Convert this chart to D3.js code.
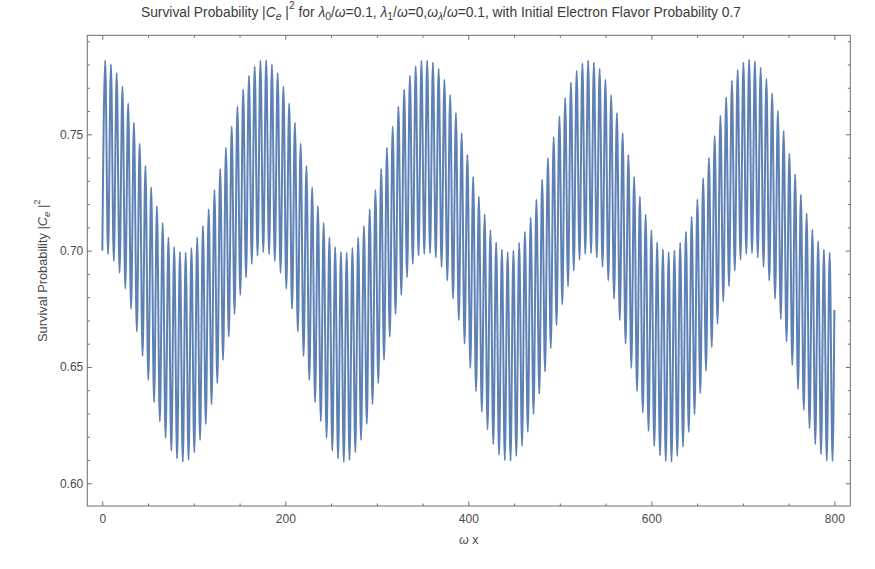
<!DOCTYPE html>
<html>
<head>
<meta charset="utf-8">
<script src="https://cdn.jsdelivr.net/npm/d3@7"></script>
<style>
  body { margin: 0; background: #fff; }
  svg { display: block; }
  text { font-family: "Liberation Sans", Arial, sans-serif; }
</style>
</head>
<body>
<svg id="chart" width="875" height="569"></svg>
<script>
// successive extrema of the curve (min, max, min, ...), spaced by pi in omega x,
// one array per slow envelope cycle
const HALF_CYCLE = Math.PI;
const cycle1 = [
  0.7000, 0.7818, 0.6984, 0.7800, 0.6955, 0.7764, 0.6905, 0.7705, 0.6836, 0.7633,
  0.6750, 0.7550, 0.6652, 0.7460, 0.6547, 0.7364, 0.6444, 0.7272, 0.6348, 0.7191,
  0.6266, 0.7119, 0.6196, 0.7056, 0.6140, 0.7016, 0.6106, 0.6994, 0.6092, 0.6991,
  0.6100, 0.7011, 0.6133, 0.7056, 0.6186, 0.7106, 0.6255, 0.7178, 0.6340, 0.7261,
  0.6430, 0.7351, 0.6530, 0.7442, 0.6630, 0.7533, 0.6727, 0.7619, 0.6809, 0.7693,
  0.6885, 0.7752, 0.6943, 0.7793, 0.6978, 0.7816
];
const cycle2 = [
  0.6993, 0.7818, 0.6984, 0.7800, 0.6955, 0.7764, 0.6905, 0.7705, 0.6836, 0.7633,
  0.6750, 0.7550, 0.6652, 0.7460, 0.6547, 0.7364, 0.6444, 0.7272, 0.6348, 0.7191,
  0.6266, 0.7119, 0.6196, 0.7056, 0.6140, 0.7016, 0.6106, 0.6994, 0.6092, 0.6991,
  0.6100, 0.7011, 0.6133, 0.7056, 0.6186, 0.7106, 0.6255, 0.7178, 0.6340, 0.7261,
  0.6430, 0.7351, 0.6530, 0.7442, 0.6630, 0.7533, 0.6727, 0.7619, 0.6809, 0.7693,
  0.6885, 0.7752, 0.6943, 0.7793, 0.6978, 0.7816
];
const cycle3 = [
  0.6986, 0.7817, 0.6989, 0.7809, 0.6970, 0.7782, 0.6930, 0.7735, 0.6871, 0.7669,
  0.6793, 0.7592, 0.6701, 0.7505, 0.6600, 0.7412, 0.6496, 0.7318, 0.6396, 0.7232,
  0.6307, 0.7155, 0.6231, 0.7088, 0.6168, 0.7036, 0.6123, 0.7005, 0.6099, 0.6993,
  0.6096, 0.7001, 0.6117, 0.7034, 0.6160, 0.7081, 0.6221, 0.7142, 0.6298, 0.7220,
  0.6385, 0.7306, 0.6480, 0.7397, 0.6580, 0.7488, 0.6679, 0.7576, 0.6768, 0.7656,
  0.6847, 0.7723, 0.6914, 0.7773, 0.6961, 0.7805
];
const cycle4 = [
  0.6986, 0.7817, 0.6989, 0.7809, 0.6970, 0.7782, 0.6930, 0.7735, 0.6871, 0.7669,
  0.6793, 0.7592, 0.6701, 0.7505, 0.6600, 0.7412, 0.6496, 0.7318, 0.6396, 0.7232,
  0.6303, 0.7155, 0.6225, 0.7088, 0.6160, 0.7036, 0.6119, 0.7005, 0.6095, 0.6993,
  0.6093, 0.7001, 0.6117, 0.7034, 0.6157, 0.7081, 0.6220, 0.7146, 0.6297, 0.7221,
  0.6387, 0.7311, 0.6483, 0.7399, 0.6585, 0.7493, 0.6685, 0.7580, 0.6781, 0.7659,
  0.6847, 0.7730, 0.6914, 0.7776, 0.6961, 0.7809
];
const cycle5 = [
  0.6986, 0.7822, 0.6989, 0.7814, 0.6970, 0.7786, 0.6930, 0.7738, 0.6871, 0.7676,
  0.6793, 0.7600, 0.6706, 0.7514, 0.6609, 0.7418, 0.6508, 0.7328, 0.6405, 0.7240,
  0.6315, 0.7160, 0.6236, 0.7090, 0.6168, 0.7040, 0.6125, 0.7005, 0.6097, 0.6991,
  0.6095
];
const lastPoint = [800, 0.6745];

const xMajorTicks = [0, 200, 400, 600, 800];
const xMinorTicks = [50, 100, 150, 250, 300, 350, 450, 500, 550, 650, 700, 750];
const yMajorTicks = [0.60, 0.65, 0.70, 0.75];
const yMinorTicks = [0.61, 0.62, 0.63, 0.64, 0.66, 0.67, 0.68, 0.69, 0.71, 0.72, 0.73, 0.74, 0.76, 0.77, 0.78, 0.79];

const LINE_COLOR = '#5e81b5';
const FRAME_COLOR = '#6e6e6e';
const LABEL_COLOR = '#4a4a4a';

const svg = d3.select('#chart');
const plotLeft = 87.3, plotRight = 850.3, plotTop = 35.3, plotBottom = 506;

const x = d3.scaleLinear().domain([-16.4, 817.4]).range([plotLeft, plotRight]);
const y = d3.scaleLinear().domain([0.60, 0.75]).range([483.3, 134.3]);

// build points from the extrema lists
let values = [].concat(cycle1, cycle2, cycle3, cycle4, cycle5);
let points = values.map(function (v, i) { return [i * HALF_CYCLE, v]; });
points.push(lastPoint);

svg.append('defs').append('clipPath').attr('id', 'plotClip')
  .append('rect').attr('x', plotLeft).attr('y', plotTop)
  .attr('width', plotRight - plotLeft).attr('height', plotBottom - plotTop);

const line = d3.line()
  .x(function (d) { return x(d[0]); })
  .y(function (d) { return y(d[1]); })
  .curve(d3.curveMonotoneX);

svg.append('path')
  .datum(points)
  .attr('clip-path', 'url(#plotClip)')
  .attr('fill', 'none')
  .attr('stroke', LINE_COLOR)
  .attr('stroke-width', 2)
  .attr('stroke-linejoin', 'round')
  .attr('d', line);

// axes: ticks point inwards, labels only on bottom and left
function styleAxis (g) {
  g.select('.domain').remove();
  g.selectAll('line').attr('stroke', FRAME_COLOR).attr('stroke-width', 1);
  g.selectAll('text').attr('fill', LABEL_COLOR).style('font-size', '12px')
    .style('font-family', '"Liberation Sans", Arial, sans-serif');
}

svg.append('g').attr('transform', 'translate(0,' + plotBottom + ')')
  .call(d3.axisBottom(x).tickValues(xMajorTicks).tickSize(-4.5).tickPadding(8).tickFormat(d3.format('d')))
  .call(styleAxis);
svg.append('g').attr('transform', 'translate(0,' + plotBottom + ')')
  .call(d3.axisBottom(x).tickValues(xMinorTicks).tickSize(-2.5).tickFormat(''))
  .call(styleAxis);
svg.append('g').attr('transform', 'translate(0,' + plotTop + ')')
  .call(d3.axisTop(x).tickValues(xMajorTicks).tickSize(-4.5).tickFormat(''))
  .call(styleAxis);
svg.append('g').attr('transform', 'translate(0,' + plotTop + ')')
  .call(d3.axisTop(x).tickValues(xMinorTicks).tickSize(-2.5).tickFormat(''))
  .call(styleAxis);

svg.append('g').attr('transform', 'translate(' + plotLeft + ',0)')
  .call(d3.axisLeft(y).tickValues(yMajorTicks).tickSize(-4.5).tickPadding(4).tickFormat(d3.format('.2f')))
  .call(styleAxis);
svg.append('g').attr('transform', 'translate(' + plotLeft + ',0)')
  .call(d3.axisLeft(y).tickValues(yMinorTicks).tickSize(-2.5).tickFormat(''))
  .call(styleAxis);
svg.append('g').attr('transform', 'translate(' + plotRight + ',0)')
  .call(d3.axisRight(y).tickValues(yMajorTicks).tickSize(-4.5).tickFormat(''))
  .call(styleAxis);
svg.append('g').attr('transform', 'translate(' + plotRight + ',0)')
  .call(d3.axisRight(y).tickValues(yMinorTicks).tickSize(-2.5).tickFormat(''))
  .call(styleAxis);

svg.append('rect')
  .attr('x', plotLeft).attr('y', plotTop)
  .attr('width', plotRight - plotLeft).attr('height', plotBottom - plotTop)
  .attr('fill', 'none').attr('stroke', FRAME_COLOR).attr('stroke-width', 1);

// rich text helper: parts with italic / sub / sup
function richText (sel, parts, size) {
  let shift = 0;
  parts.forEach(function (p) {
    let s = p.sub ? size * 0.25 : (p.sup ? -size * 0.55 : 0);
    sel.append('tspan')
      .attr('dy', s - shift)
      .style('font-style', p.i ? 'italic' : 'normal')
      .style('font-size', (p.sub || p.sup ? size * 0.75 : size) + 'px')
      .text(p.t);
    shift = s;
  });
}

const title = svg.append('text')
  .attr('x', 441).attr('y', 17)
  .attr('text-anchor', 'middle')
  .attr('fill', '#3c3c3c');
richText(title, [
  { t: 'Survival Probability |' }, { t: 'C', i: 1 }, { t: 'e', i: 1, sub: 1 }, { t: ' |' }, { t: '2', sup: 1 },
  { t: ' for ' }, { t: 'λ', i: 1 }, { t: '0', sub: 1 }, { t: '/' }, { t: 'ω', i: 1 }, { t: '=0.1, ' },
  { t: 'λ', i: 1 }, { t: '1', sub: 1 }, { t: '/' }, { t: 'ω', i: 1 }, { t: '=0,' },
  { t: 'ω', i: 1 }, { t: 'λ', i: 1, sub: 1 }, { t: '/' }, { t: 'ω', i: 1 },
  { t: '=0.1, with Initial Electron Flavor Probability 0.7' }
], 13.8);

const yLabel = svg.append('text')
  .attr('transform', 'translate(47,' + ((plotTop + plotBottom) / 2) + ') rotate(-90)')
  .attr('text-anchor', 'middle')
  .attr('fill', LABEL_COLOR);
richText(yLabel, [
  { t: 'Survival Probability |' }, { t: 'C', i: 1 }, { t: 'e', i: 1, sub: 1 }, { t: ' |' }, { t: '2', sup: 1 }
], 12.8);

const xLabel = svg.append('text')
  .attr('x', (plotLeft + plotRight) / 2).attr('y', 544)
  .attr('text-anchor', 'middle')
  .attr('fill', LABEL_COLOR)
  .style('font-size', '12.5px');
xLabel.append('tspan').style('font-style', 'italic').text('ω');
xLabel.append('tspan').text(' x');
</script>
</body>
</html>
